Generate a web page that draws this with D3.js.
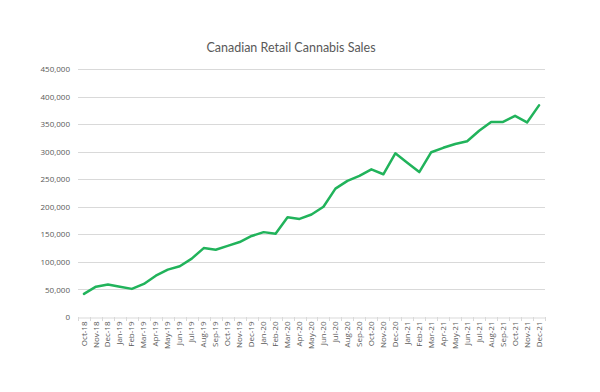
<!DOCTYPE html>
<html><head><meta charset="utf-8">
<script src="https://cdn.jsdelivr.net/npm/d3@7"></script>
<style>body{margin:0;background:#fff}svg{display:block}</style>
</head><body>
<svg id="c" width="600" height="392"></svg>
<script>
const months = ["Oct-18","Nov-18","Dec-18","Jan-19","Feb-19","Mar-19","Apr-19","May-19","Jun-19","Jul-19","Aug-19","Sep-19","Oct-19","Nov-19","Dec-19","Jan-20","Feb-20","Mar-20","Apr-20","May-20","Jun-20","Jul-20","Aug-20","Sep-20","Oct-20","Nov-20","Dec-20","Jan-21","Feb-21","Mar-21","Apr-21","May-21","Jun-21","Jul-21","Aug-21","Sep-21","Oct-21","Nov-21","Dec-21"];
const sales = [42000,55000,59000,55000,51000,60000,75000,86000,92000,106000,125000,122000,129000,136000,147000,154000,151000,181000,178000,186000,200000,233000,247000,256000,268000,259000,297000,280000,263000,299000,307000,314000,319000,338000,354000,354000,365000,353000,384000];
const yTicks = [0,50000,100000,150000,200000,250000,300000,350000,400000,450000];
const title = "Canadian Retail Cannabis Sales";

const svg = d3.select("#c");
const m = {left:78, right:545, top:69, bottom:317};
const x = d3.scaleBand().domain(months).range([m.left, m.right]);
const y = d3.scaleLinear().domain([0,450000]).range([m.bottom, m.top]);
const font = "'Open Sans', 'Liberation Sans', sans-serif";
const grey = "#595959";

svg.append("text").attr("x",291).attr("y",52).attr("text-anchor","middle")
  .attr("font-family","Lato, 'Open Sans', sans-serif").attr("font-size",12.5).attr("fill",grey).text(title);

// gridlines
svg.append("g").selectAll("line").data(yTicks.filter(d=>d>0)).join("line")
  .attr("x1",m.left).attr("x2",m.right).attr("y1",d=>Math.round(y(d))+0.5).attr("y2",d=>Math.round(y(d))+0.5)
  .attr("stroke","#d9d9d9").attr("stroke-width",1);

// y axis labels
const ya = svg.append("g").attr("transform",`translate(${m.left},0)`)
  .call(d3.axisLeft(y).tickValues(yTicks).tickSize(0).tickPadding(8).tickFormat(d3.format(",")));
ya.select(".domain").remove();
ya.selectAll("text").attr("font-family",font).attr("font-size",8).attr("fill",grey);

// x axis
const xa = svg.append("g").attr("transform",`translate(0,${Math.round(y(0))+0.5})`)
  .call(d3.axisBottom(x).tickSize(0).tickPadding(4));
xa.select(".domain").attr("stroke","#d9d9d9");
xa.selectAll("text").attr("font-family",font).attr("font-size",8).attr("fill",grey)
  .attr("transform","rotate(-90)").attr("text-anchor","end").attr("dx","-4px").attr("dy","0.32em").attr("y",0);
// boundary tick marks
svg.append("g").selectAll("line").data(months.concat(["__end"])).join("line")
  .attr("x1",(d,i)=>Math.round(i<months.length? x(d): m.right)+0.5)
  .attr("x2",(d,i)=>Math.round(i<months.length? x(d): m.right)+0.5)
  .attr("y1",Math.round(y(0))).attr("y2",Math.round(y(0))+4)
  .attr("stroke","#d9d9d9");

// line
const line = d3.line().x((d,i)=>x(months[i])+x.bandwidth()/2).y(d=>y(d));
svg.append("path").datum(sales).attr("d",line).attr("fill","none")
  .attr("stroke","#21b35b").attr("stroke-width",2.5).attr("stroke-linejoin","round").attr("stroke-linecap","round");
</script>
</body></html>
